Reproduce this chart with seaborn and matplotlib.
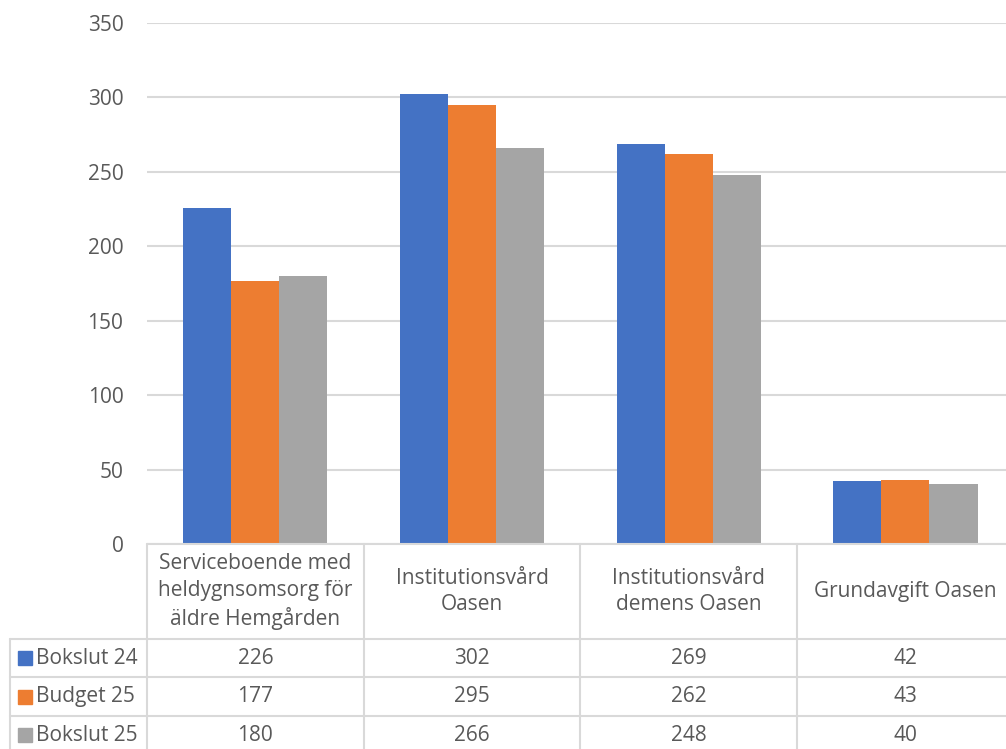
import pandas as pd
import numpy as np
import seaborn as sns
import matplotlib.pyplot as plt
import matplotlib.transforms as mtransforms

kategorier = ['Serviceboende med\nheldygnsomsorg för\näldre Hemgården',
              'Institutionsvård\nOasen',
              'Institutionsvård\ndemens Oasen',
              'Grundavgift Oasen']
serier = ['Bokslut 24', 'Budget 25', 'Bokslut 25']
bokslut_24 = [226, 302, 269, 42]
budget_25 = [177, 295, 262, 43]
bokslut_25 = [180, 266, 248, 40]
farger = ['#4472C4', '#ED7D31', '#A5A5A5']
y_ticks = [0, 50, 100, 150, 200, 250, 300, 350]

varden = [bokslut_24, budget_25, bokslut_25]
rows = []
for s, v in zip(serier, varden):
    for k, x in zip(kategorier, v):
        rows.append({'kategori': k, 'serie': s, 'varde': x})
df = pd.DataFrame(rows)

sns.set_style('white')
plt.rcParams['font.family'] = ['Open Sans', 'DejaVu Sans']
txt = '#595959'
grid = '#D9D9D9'
fs = 15

fig = plt.figure(figsize=(10.06, 7.49), dpi=100)
ax = fig.add_axes([147 / 1006, 205 / 749, 866.8 / 1006, 521 / 749])

sns.barplot(data=df, x='kategori', y='varde', hue='serie', palette=farger,
            width=0.665, gap=0, saturation=1, linewidth=0, legend=False,
            ax=ax, zorder=3)

ax.set_ylim(0, 350)
ax.set_xlim(-0.5, 3.5)
ax.set_yticks(y_ticks)
ax.yaxis.grid(True, color=grid, linewidth=1.5, zorder=0)
ax.tick_params(axis='y', length=0, pad=17, labelsize=fs, labelcolor=txt)
ax.set_xticks([])
ax.set_xlabel('')
ax.set_ylabel('')
for sp in ax.spines.values():
    sp.set_visible(False)

# data table under the chart
tr = mtransforms.blended_transform_factory(ax.transData, ax.transAxes)
head_b = -0.1823
row_h = 0.0739
label_x = -1.132
lw = 1.5
n = len(serier)
bottoms = [head_b - row_h * (i + 1) for i in range(n)]

ax.plot([-0.5, 3.5], [0, 0], transform=tr, color=grid, lw=lw, clip_on=False, zorder=4)
ax.plot([label_x, 3.5], [head_b, head_b], transform=tr, color=grid, lw=lw, clip_on=False)
for b in bottoms:
    ax.plot([label_x, 3.5], [b, b], transform=tr, color=grid, lw=lw, clip_on=False)
for xb in np.arange(-0.5, 4.0, 1.0):
    ax.plot([xb, xb], [0, bottoms[-1]], transform=tr, color=grid, lw=lw, clip_on=False)
ax.plot([label_x, label_x], [head_b, bottoms[-1]], transform=tr, color=grid, lw=lw, clip_on=False)

for i, k in enumerate(kategorier):
    ax.text(i, head_b / 2, k, transform=tr, ha='center', va='center',
            fontsize=fs, color=txt, linespacing=1.33)

for j, (s, v, c) in enumerate(zip(serier, varden, farger)):
    yc = head_b - row_h * (j + 0.5)
    ax.plot([label_x + 0.068], [yc], transform=tr, marker='s', markersize=9.5,
            color=c, clip_on=False, linestyle='')
    ax.text(label_x + 0.118, yc, s, transform=tr, ha='left', va='center',
            fontsize=fs, color=txt)
    for i, x in enumerate(v):
        ax.text(i, yc, str(x), transform=tr, ha='center', va='center',
                fontsize=fs, color=txt)

fig.savefig('out.png', dpi=100)
